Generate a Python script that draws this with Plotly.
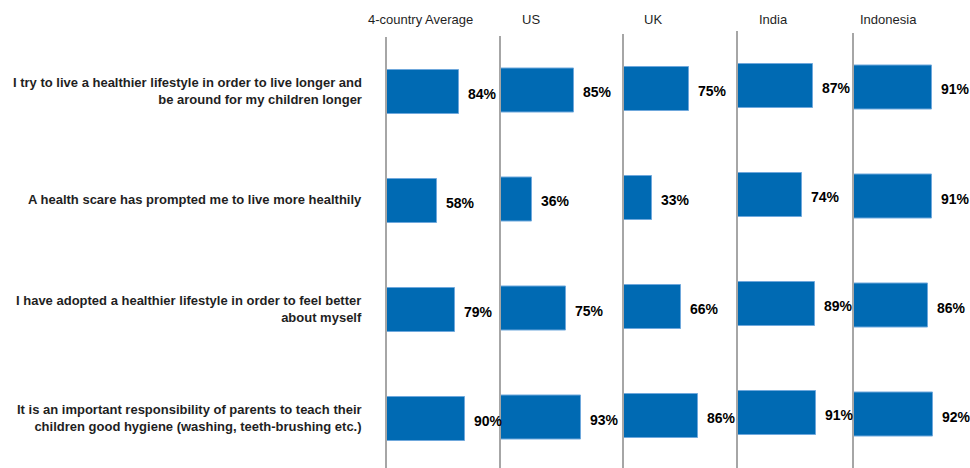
import plotly.graph_objects as go

# Survey statements (rows) and the panels (columns)
statements = [
    "I try to live a healthier lifestyle in order to live longer and<br>be around for my children longer",
    "A health scare has prompted me to live more healthily",
    "I have adopted a healthier lifestyle in order to feel better<br>about myself",
    "It is an important responsibility of parents to teach their<br>children good hygiene (washing, teeth-brushing etc.)",
]
panel_names = ["4-country Average", "US", "UK", "India", "Indonesia"]

# Share agreeing (%) per statement, one list per panel
avg_values = [84, 58, 79, 90]
us_values = [85, 36, 75, 93]
uk_values = [75, 33, 66, 86]
india_values = [87, 74, 89, 91]
indonesia_values = [91, 91, 86, 92]
panel_values = [avg_values, us_values, uk_values, india_values, indonesia_values]

# Page geometry (pixels)
W, H = 970, 468
panel_left = [387, 501, 624, 738, 854]
panel_dy = [0, -1.5, -3, -6, -4.5]
header_left = [366, 520, 642, 757, 858]
panel_width = 110
px_per_pct = 0.862
row_pitch = 109
first_row_center = 92
axis_top = 37

BAR_BLUE = "#006AB3"
EDGE_BLUE = "#6FA8DC"
AXIS_GREY = "#A6A6A6"
TEXT = "#1F1F1F"
FONT = "Liberation Sans, Arial, sans-serif"

fig = go.Figure()
rows = list(range(len(statements)))

for k, (name, vals) in enumerate(zip(panel_names, panel_values)):
    idx = "" if k == 0 else str(k + 1)
    xa, ya = "x" + idx, "y" + idx
    d = panel_dy[k]
    fig.add_trace(go.Bar(
        x=vals, y=rows, orientation="h", width=0.395,
        marker=dict(color=BAR_BLUE, line=dict(color=EDGE_BLUE, width=1)),
        xaxis=xa, yaxis=ya, hoverinfo="skip", showlegend=False,
    ))
    left = panel_left[k]
    fig.layout["xaxis" + idx] = dict(
        domain=[left / W, (left + panel_width) / W],
        range=[0, panel_width / px_per_pct],
        showgrid=False, zeroline=False, showline=False,
        showticklabels=False, ticks="", anchor=ya, fixedrange=True,
    )
    top_px = axis_top + d
    center0 = first_row_center + d
    fig.layout["yaxis" + idx] = dict(
        domain=[0, 1 - top_px / H],
        range=[(H - center0) / row_pitch, -(center0 - top_px) / row_pitch],
        showgrid=False, zeroline=False, showline=True,
        linecolor=AXIS_GREY, linewidth=2,
        showticklabels=False, ticks="", anchor=xa, fixedrange=True,
    )
    # column header
    fig.add_annotation(
        x=header_left[k] / W, y=1 - 20 / H, xref="paper", yref="paper",
        xanchor="left", yanchor="middle", showarrow=False,
        text=name, font=dict(family=FONT, size=13, color=TEXT),
    )
    # value labels next to each bar
    for i, v in zip(rows, vals):
        fig.add_annotation(
            x=v, y=i, xref=xa, yref=ya, xanchor="left", yanchor="middle",
            xshift=7, yshift=-2, showarrow=False,
            text=f"<b>{v}%</b>", font=dict(family=FONT, size=14, color="#000000"),
        )

# statement labels, right-aligned against the first panel
for i, s in zip(rows, statements):
    fig.add_annotation(
        x=364 / W, y=i, xref="paper", yref="y", xanchor="right", yanchor="middle",
        align="right", showarrow=False, yshift=1,
        text=f"<b>{s}</b>", font=dict(family=FONT, size=13, color=TEXT),
    )

fig.update_layout(
    width=W, height=H,
    margin=dict(l=0, r=0, t=0, b=0),
    paper_bgcolor="white", plot_bgcolor="white",
    bargap=0,
)

fig.write_html("out.html")
